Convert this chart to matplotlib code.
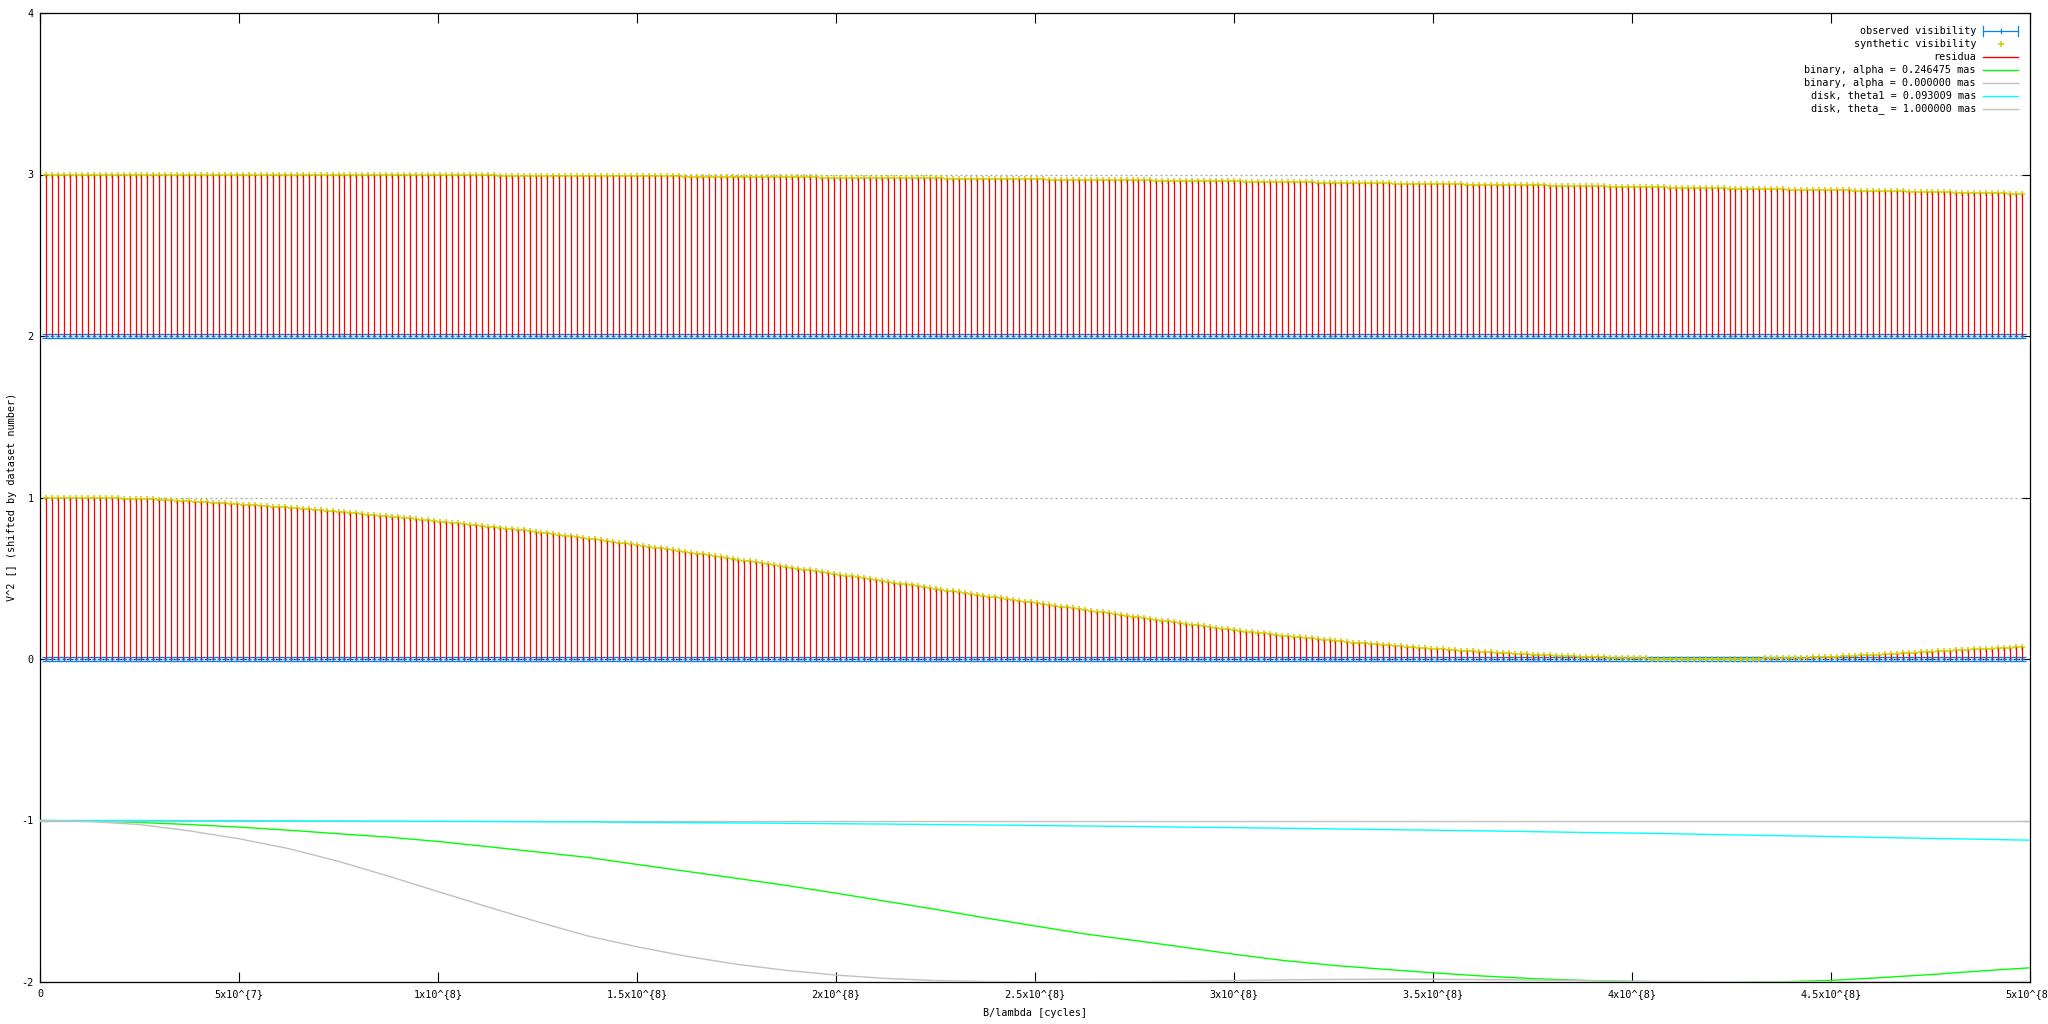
import numpy as np
import matplotlib
matplotlib.use("Agg")
import matplotlib.pyplot as plt
from matplotlib.lines import Line2D

plt.rcParams["font.family"] = ["DejaVu Sans Mono"]
FS = 7.3

# baselines B/lambda [cycles]: one point every 1.5e6 cycles
b = 1.5e6 * np.arange(1, 333)

dataset_offsets = [0, 2]
obs_err = 0.012
obs0 = np.zeros(332)
obs1 = np.zeros(332)

# synthetic V^2, dataset 0
syn0 = [
    1.000, 1.000, 0.999, 0.999, 0.999, 0.998, 0.998, 0.998, 0.997, 0.997,
    0.996, 0.995, 0.994, 0.993, 0.992, 0.991, 0.990, 0.989, 0.988, 0.987,
    0.985, 0.983, 0.981, 0.979, 0.977, 0.974, 0.972, 0.970, 0.968, 0.966,
    0.964, 0.961, 0.959, 0.956, 0.954, 0.952, 0.949, 0.947, 0.944, 0.942,
    0.939, 0.936, 0.933, 0.930, 0.927, 0.924, 0.921, 0.918, 0.915, 0.912,
    0.908, 0.905, 0.901, 0.898, 0.894, 0.891, 0.887, 0.884, 0.880, 0.877,
    0.873, 0.870, 0.866, 0.862, 0.858, 0.855, 0.851, 0.847, 0.844, 0.840,
    0.836, 0.832, 0.828, 0.824, 0.820, 0.816, 0.812, 0.808, 0.804, 0.800,
    0.796, 0.791, 0.787, 0.782, 0.778, 0.773, 0.769, 0.764, 0.760, 0.755,
    0.750, 0.745, 0.740, 0.735, 0.731, 0.726, 0.721, 0.716, 0.711, 0.706,
    0.701, 0.695, 0.690, 0.685, 0.680, 0.674, 0.669, 0.664, 0.658, 0.653,
    0.648, 0.642, 0.637, 0.631, 0.626, 0.620, 0.615, 0.609, 0.604, 0.598,
    0.593, 0.587, 0.582, 0.576, 0.571, 0.565, 0.560, 0.554, 0.549, 0.543,
    0.538, 0.532, 0.527, 0.521, 0.516, 0.511, 0.505, 0.500, 0.494, 0.489,
    0.484, 0.478, 0.473, 0.467, 0.462, 0.457, 0.451, 0.446, 0.440, 0.435,
    0.430, 0.424, 0.419, 0.413, 0.408, 0.403, 0.397, 0.392, 0.386, 0.381,
    0.376, 0.371, 0.365, 0.360, 0.355, 0.350, 0.345, 0.339, 0.334, 0.329,
    0.324, 0.319, 0.314, 0.309, 0.303, 0.298, 0.293, 0.288, 0.283, 0.278,
    0.273, 0.268, 0.263, 0.258, 0.253, 0.248, 0.243, 0.238, 0.233, 0.228,
    0.223, 0.218, 0.213, 0.208, 0.203, 0.198, 0.193, 0.188, 0.183, 0.178,
    0.174, 0.170, 0.166, 0.162, 0.158, 0.153, 0.149, 0.145, 0.141, 0.137,
    0.134, 0.130, 0.127, 0.123, 0.120, 0.116, 0.113, 0.109, 0.106, 0.102,
    0.099, 0.096, 0.093, 0.090, 0.087, 0.084, 0.081, 0.078, 0.075, 0.072,
    0.070, 0.067, 0.065, 0.062, 0.060, 0.057, 0.055, 0.052, 0.050, 0.047,
    0.045, 0.043, 0.041, 0.039, 0.037, 0.035, 0.033, 0.031, 0.029, 0.027,
    0.026, 0.024, 0.023, 0.021, 0.020, 0.018, 0.017, 0.015, 0.014, 0.012,
    0.011, 0.010, 0.009, 0.008, 0.008, 0.007, 0.006, 0.005, 0.004, 0.003,
    0.003, 0.002, 0.002, 0.002, 0.001, 0.001, 0.001, 0.000, 0.000, 0.000,
    0.000, 0.001, 0.001, 0.001, 0.002, 0.002, 0.003, 0.003, 0.004, 0.004,
    0.005, 0.006, 0.006, 0.007, 0.008, 0.009, 0.010, 0.010, 0.011, 0.012,
    0.014, 0.016, 0.018, 0.020, 0.022, 0.023, 0.025, 0.027, 0.029, 0.031,
    0.033, 0.035, 0.037, 0.039, 0.042, 0.044, 0.046, 0.048, 0.050, 0.052,
    0.054, 0.056, 0.058, 0.060, 0.062, 0.063, 0.065, 0.067, 0.069, 0.071,
    0.073, 0.075,
]

# synthetic V^2, dataset 1
syn1 = [
    1.000, 1.000, 1.000, 1.000, 1.000, 1.000, 1.000, 1.000, 1.000, 1.000,
    1.000, 1.000, 1.000, 1.000, 1.000, 1.000, 1.000, 1.000, 1.000, 1.000,
    1.000, 1.000, 1.000, 1.000, 0.999, 0.999, 0.999, 0.999, 0.999, 0.999,
    0.999, 0.999, 0.999, 0.999, 0.999, 0.998, 0.998, 0.998, 0.998, 0.998,
    0.998, 0.998, 0.998, 0.998, 0.997, 0.997, 0.997, 0.997, 0.997, 0.997,
    0.997, 0.997, 0.997, 0.996, 0.996, 0.996, 0.996, 0.996, 0.996, 0.996,
    0.996, 0.996, 0.995, 0.995, 0.995, 0.995, 0.995, 0.995, 0.995, 0.995,
    0.995, 0.994, 0.994, 0.994, 0.994, 0.994, 0.993, 0.993, 0.993, 0.993,
    0.993, 0.993, 0.992, 0.992, 0.992, 0.992, 0.992, 0.991, 0.991, 0.991,
    0.991, 0.991, 0.990, 0.990, 0.990, 0.990, 0.990, 0.989, 0.989, 0.989,
    0.989, 0.989, 0.988, 0.988, 0.988, 0.988, 0.988, 0.987, 0.987, 0.987,
    0.987, 0.986, 0.986, 0.986, 0.986, 0.985, 0.985, 0.985, 0.984, 0.984,
    0.984, 0.984, 0.983, 0.983, 0.983, 0.983, 0.982, 0.982, 0.982, 0.982,
    0.981, 0.981, 0.981, 0.981, 0.980, 0.980, 0.980, 0.979, 0.979, 0.979,
    0.979, 0.978, 0.978, 0.978, 0.977, 0.977, 0.977, 0.977, 0.976, 0.976,
    0.976, 0.975, 0.975, 0.975, 0.974, 0.974, 0.973, 0.973, 0.973, 0.972,
    0.972, 0.972, 0.971, 0.971, 0.971, 0.970, 0.970, 0.970, 0.969, 0.969,
    0.969, 0.968, 0.968, 0.967, 0.967, 0.967, 0.966, 0.966, 0.965, 0.965,
    0.965, 0.964, 0.964, 0.963, 0.963, 0.963, 0.962, 0.962, 0.961, 0.961,
    0.961, 0.960, 0.960, 0.959, 0.959, 0.959, 0.958, 0.958, 0.957, 0.957,
    0.957, 0.956, 0.956, 0.955, 0.955, 0.954, 0.954, 0.953, 0.953, 0.952,
    0.952, 0.951, 0.951, 0.950, 0.950, 0.950, 0.949, 0.949, 0.948, 0.948,
    0.947, 0.947, 0.946, 0.946, 0.945, 0.945, 0.944, 0.944, 0.943, 0.943,
    0.942, 0.942, 0.941, 0.941, 0.940, 0.940, 0.939, 0.939, 0.938, 0.938,
    0.937, 0.937, 0.936, 0.936, 0.935, 0.935, 0.934, 0.934, 0.933, 0.933,
    0.932, 0.932, 0.931, 0.931, 0.930, 0.930, 0.929, 0.928, 0.928, 0.927,
    0.926, 0.926, 0.925, 0.925, 0.924, 0.924, 0.923, 0.922, 0.922, 0.921,
    0.920, 0.920, 0.919, 0.919, 0.918, 0.918, 0.917, 0.916, 0.916, 0.915,
    0.914, 0.914, 0.913, 0.913, 0.912, 0.911, 0.911, 0.910, 0.910, 0.909,
    0.908, 0.908, 0.907, 0.907, 0.906, 0.905, 0.905, 0.904, 0.904, 0.903,
    0.902, 0.902, 0.901, 0.900, 0.900, 0.899, 0.898, 0.898, 0.897, 0.896,
    0.895, 0.895, 0.894, 0.893, 0.893, 0.892, 0.891, 0.891, 0.890, 0.889,
    0.888, 0.888, 0.887, 0.886, 0.886, 0.885, 0.884, 0.884, 0.883, 0.882,
    0.881, 0.881,
]

# model curves (unshifted V^2), sampled every 1.25e7 cycles, drawn at offset -2
model_b = 1.25e7 * np.arange(0, 41)
model_offset = -2
binary_alpha = [
    1.000, 0.997, 0.988, 0.975, 0.959, 0.940, 0.918, 0.897, 0.870, 0.838,
    0.805, 0.772, 0.728, 0.685, 0.642, 0.598, 0.550, 0.500, 0.450, 0.397,
    0.347, 0.298, 0.257, 0.215, 0.172, 0.133, 0.103, 0.079, 0.057, 0.037,
    0.021, 0.010, 0.003, 0.000, 0.000, 0.001, 0.010, 0.027, 0.046, 0.068,
    0.088,
]
binary_zero = [1.0] * 41
disk_theta1 = [
    1.000, 1.000, 1.000, 0.999, 0.999, 0.998, 0.997, 0.996, 0.995, 0.994,
    0.992, 0.991, 0.989, 0.987, 0.985, 0.983, 0.980, 0.978, 0.975, 0.972,
    0.969, 0.966, 0.963, 0.959, 0.956, 0.952, 0.948, 0.944, 0.940, 0.936,
    0.931, 0.926, 0.922, 0.917, 0.911, 0.906, 0.901, 0.895, 0.889, 0.884,
    0.878,
]
disk_theta = [
    1.000, 0.994, 0.975, 0.936, 0.887, 0.826, 0.747, 0.656, 0.560, 0.465,
    0.373, 0.286, 0.218, 0.159, 0.110, 0.072, 0.043, 0.022, 0.009, 0.003,
    0.000, 0.001, 0.002, 0.005, 0.009, 0.013, 0.016, 0.017, 0.017, 0.015,
    0.012, 0.009, 0.005, 0.003, 0.001, 0.000, 0.000, 0.000, 0.001, 0.002,
    0.003,
]

x_ticks = [0, 5e7, 1e8, 1.5e8, 2e8, 2.5e8, 3e8, 3.5e8, 4e8, 4.5e8, 5e8]
x_tick_labels = ["0", "5x10^{7}", "1x10^{8}", "1.5x10^{8}", "2x10^{8}", "2.5x10^{8}",
                 "3x10^{8}", "3.5x10^{8}", "4x10^{8}", "4.5x10^{8}", "5x10^{8}"]
y_ticks = [-2, -1, 0, 1, 2, 3, 4]

legend_labels = ["observed visibility", "synthetic visibility", "residua",
                 "binary, alpha = 0.246475 mas", "binary, alpha = 0.000000 mas",
                 "disk, theta1 = 0.093009 mas", "disk, theta_ = 1.000000 mas"]

C_OBS = "#0a80f0"
C_SYN = "#cccc00"
C_RES = "#ff0000"
C_GREEN = "#00ff00"
C_GREY = "#c0c0c0"
C_CYAN = "#00ffff"

W, H = 2048, 1024
fig = plt.figure(figsize=(W / 100, H / 100), dpi=100)
ax = fig.add_axes([40 / W, 1 - 982 / H, 1990 / W, 969 / H])

ax.axhline(0, color="black", lw=0.8, ls=(0, (1.5, 2.5)), zorder=1)
for off in dataset_offsets:
    ax.axhline(off + 1, color="#a0a0a0", lw=0.9, ls=(0, (1.5, 2.5)), zorder=1)

for off, obs, syn in zip(dataset_offsets, [obs0, obs1], [syn0, syn1]):
    obs_y = obs + off
    syn_y = np.asarray(syn) + off
    ax.errorbar(b, obs_y, yerr=obs_err, fmt="+", color=C_OBS, ms=2.5, mew=0.9,
                elinewidth=0.9, capsize=2.6, capthick=1.1, zorder=2)
    ax.plot(b, syn_y, "+", color=C_SYN, ms=5, mew=1.1, ls="none", zorder=3)
    ax.vlines(b, obs_y, syn_y, color=C_RES, lw=0.9, zorder=4)

ax.plot(model_b, np.asarray(binary_alpha) + model_offset, color=C_GREEN, lw=1.0, zorder=5)
ax.plot(model_b, np.asarray(binary_zero) + model_offset, color=C_GREY, lw=1.0, zorder=5)
ax.plot(model_b, np.asarray(disk_theta1) + model_offset, color=C_CYAN, lw=1.0, zorder=5)
ax.plot(model_b, np.asarray(disk_theta) + model_offset, color=C_GREY, lw=1.0, zorder=5)

ax.set_xlim(0, 5e8)
ax.set_ylim(-2, 4)
ax.set_xticks(x_ticks)
ax.set_xticklabels(x_tick_labels)
ax.set_yticks(y_ticks)
ax.set_yticklabels([str(v) for v in y_ticks])
ax.tick_params(axis="x", direction="in", length=7.2, width=0.8, top=True,
               labelsize=FS, pad=5)
ax.tick_params(axis="y", direction="in", length=5.5, width=0.8, right=True,
               labelsize=FS, pad=4.5)
for s in ax.spines.values():
    s.set_linewidth(0.9)

fig.text(1035 / W, 1 - 1013 / H, "B/lambda [cycles]", ha="center", va="center", fontsize=FS)
fig.text(12 / W, 1 - 497 / H, "V^2 [] (shifted by dataset number)", rotation=90,
         ha="center", va="center", fontsize=FS)

# gnuplot-style key: right-aligned text, sample to the right
row_y = [31, 44, 57, 70, 83, 96, 109]
tx, s0, s1 = 1976, 1983, 2018
fx = lambda px: px / W
fy = lambda py: 1 - py / H
styles = [C_OBS, C_SYN, C_RES, C_GREEN, C_GREY, C_CYAN, C_GREY]
for i, (lab, col) in enumerate(zip(legend_labels, styles)):
    y = row_y[i]
    fig.text(fx(tx), fy(y), lab, ha="right", va="center", fontsize=FS)
    if i == 0:
        fig.add_artist(Line2D([fx(s0), fx(s1)], [fy(y), fy(y)], color=col, lw=0.9))
        for xx in (s0, s1):
            fig.add_artist(Line2D([fx(xx), fx(xx)], [fy(y - 5), fy(y + 5)], color=col, lw=0.9))
        mid = (s0 + s1) / 2
        fig.add_artist(Line2D([fx(mid), fx(mid)], [fy(y - 2), fy(y + 2)], color=col, lw=0.9))
    elif i == 1:
        mid = (s0 + s1) / 2
        fig.add_artist(Line2D([fx(mid)], [fy(y)], marker="+", ms=5, mew=1.1,
                              color=col, ls="none"))
    else:
        fig.add_artist(Line2D([fx(s0), fx(s1)], [fy(y), fy(y)], color=col, lw=1.0))

fig.savefig("out.png", dpi=100)
print("Saved out.png")
